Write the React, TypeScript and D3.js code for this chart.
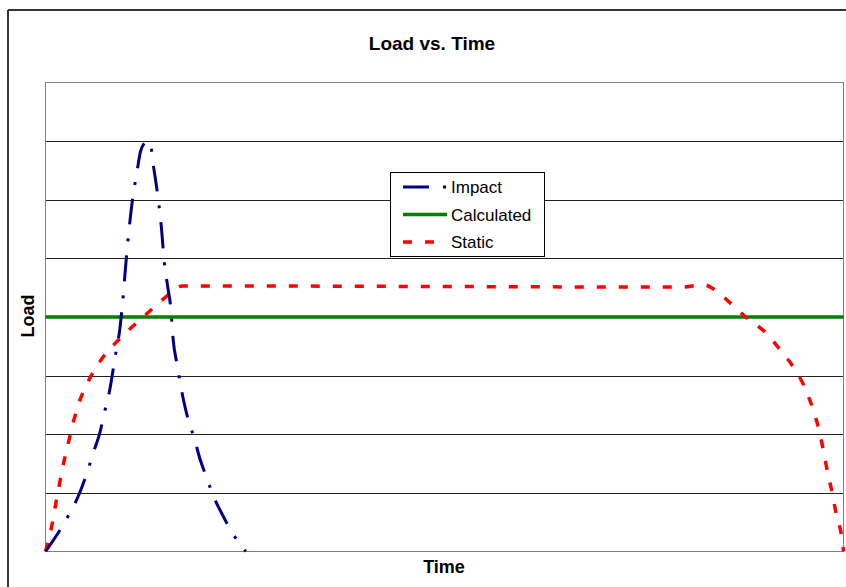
import React from "react";
import * as d3 from "d3";

// Time axis in arbitrary units 0..100, load in grid units 0..8
const impactTime = [0, 1.6, 2.9, 4.0, 5.3, 6.0, 6.8, 7.4, 8.0, 8.8, 9.3, 9.8, 10.0, 10.9, 11.5, 11.9, 12.4, 12.8, 13.2, 13.5, 13.9, 14.5, 14.9, 15.3, 15.7, 16.0, 16.5, 17.3, 17.9, 18.6, 19.4, 20.2, 20.9, 22.2, 23.4, 25.1];
const impactLoad = [0, 0.32, 0.62, 0.91, 1.38, 1.69, 2.02, 2.38, 2.72, 3.38, 3.78, 4.46, 4.8, 6.0, 6.51, 6.82, 6.97, 7.01, 6.91, 6.6, 6.24, 5.56, 4.92, 4.53, 4.15, 3.61, 3.18, 2.58, 2.24, 1.95, 1.56, 1.26, 0.99, 0.62, 0.32, 0];

const staticTime = [0, 0.75, 1.25, 1.75, 2.26, 2.88, 3.51, 4.26, 5.39, 6.77, 8.52, 10.53, 12.66, 14.79, 17.17, 19.4, 50, 79.6, 82.5, 83.7, 85.8, 88.0, 90.2, 92.0, 93.7, 95.0, 96.1, 96.9, 97.5, 98.0, 98.6, 99.1, 99.75, 100];
const staticLoad = [0, 0.41, 0.79, 1.15, 1.5, 1.86, 2.22, 2.56, 2.91, 3.23, 3.52, 3.79, 4.05, 4.31, 4.53, 4.53, 4.52, 4.51, 4.55, 4.48, 4.24, 3.97, 3.74, 3.45, 3.15, 2.84, 2.46, 2.09, 1.71, 1.35, 0.99, 0.63, 0.27, 0];

const calculatedTime = [0, 100];
const calculatedLoad = [4, 4];

const yTicks = [1, 2, 3, 4, 5, 6, 7];
const legendLabels = ["Impact", "Calculated", "Static"];

const FONT = "'Liberation Sans', Arial, Helvetica, sans-serif";

export default function App() {
  const x = d3.scaleLinear().domain([0, 100]).range([45.5, 843.5]);
  const y = d3.scaleLinear().domain([0, 8]).range([551.5, 82.5]);

  const line = d3
    .line<[number, number]>()
    .x((d) => x(d[0]))
    .y((d) => y(d[1]))
    .curve(d3.curveMonotoneX);

  const impactPts = impactTime.map((t, i) => [t, impactLoad[i]] as [number, number]);
  const staticPts = staticTime.map((t, i) => [t, staticLoad[i]] as [number, number]);
  const calcPts = calculatedTime.map((t, i) => [t, calculatedLoad[i]] as [number, number]);

  const series = [
    { name: legendLabels[0], color: "#000080", width: 3, dash: "26,14,3,14" },
    { name: legendLabels[1], color: "#008000", width: 3.5, dash: "none" },
    { name: legendLabels[2], color: "#FF0000", width: 3.5, dash: "9,13" },
  ];

  return (
    <svg
      width={846}
      height={587}
      style={{ position: "absolute", left: 0, top: 0, background: "#fff" }}
    >
      <rect x={0} y={0} width={846} height={587} fill="#fff" />
      {/* outer chart border */}
      <line x1={8} y1={10} x2={846} y2={10} stroke="#333" strokeWidth={2} />
      <line x1={8} y1={10} x2={8} y2={587} stroke="#333" strokeWidth={2} />

      {/* gridlines */}
      {yTicks.map((t) => (
        <line key={t} x1={x(0)} x2={x(100)} y1={Math.round(y(t)) + 0.5} y2={Math.round(y(t)) + 0.5} stroke="#222" strokeWidth={1} />
      ))}
      {/* plot border */}
      <rect x={x(0)} y={y(8)} width={x(100) - x(0)} height={y(0) - y(8)} fill="none" stroke="#808080" strokeWidth={1} />

      {/* series */}
      <path d={line(calcPts) || ""} fill="none" stroke="#008000" strokeWidth={3.5} />
      <path d={line(staticPts) || ""} fill="none" stroke="#FF0000" strokeWidth={3.5} strokeDasharray="9,13" />
      <path d={line(impactPts) || ""} fill="none" stroke="#000080" strokeWidth={3} strokeDasharray="26,14,3,14" />

      {/* title */}
      <text x={432} y={50} textAnchor="middle" fontFamily={FONT} fontWeight="bold" fontSize={19}>
        Load vs. Time
      </text>
      <text x={444} y={573} textAnchor="middle" fontFamily={FONT} fontWeight="bold" fontSize={18}>
        Time
      </text>
      <text
        transform="translate(34,316) rotate(-90)"
        textAnchor="middle"
        fontFamily={FONT}
        fontWeight="bold"
        fontSize={18}
      >
        Load
      </text>

      {/* legend */}
      <rect x={390.5} y={172.5} width={154} height={84} fill="#fff" stroke="#000" strokeWidth={1} />
      {series.map((s, i) => {
        const ly = 187 + i * 27.5;
        return (
          <g key={s.name}>
            <line x1={403} x2={447} y1={ly} y2={ly} stroke={s.color} strokeWidth={s.width} strokeDasharray={s.dash} />
            <text x={451} y={ly + 6} fontFamily={FONT} fontSize={17}>
              {s.name}
            </text>
          </g>
        );
      })}
    </svg>
  );
}
